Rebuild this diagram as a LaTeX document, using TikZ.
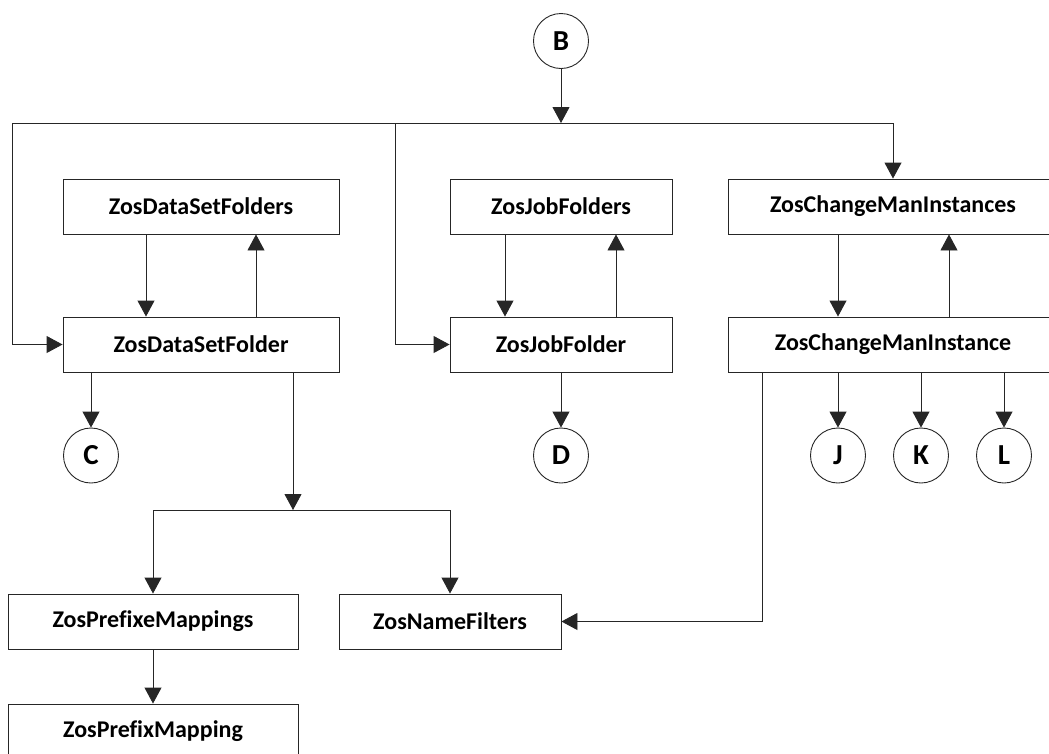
\documentclass[tikz,border=0pt]{standalone}
\usepackage{fontspec}
\setmainfont{Carlito}[Ligatures=NoCommon]
\usetikzlibrary{arrows.meta}

\begin{document}
\begin{tikzpicture}[x=1pt,y=-1pt,line width=0.9pt,draw=black!85,
    >={Triangle[length=16pt,width=17pt]},
    class/.style={draw,rectangle,minimum height=55pt,inner sep=0pt,
      font=\fontsize{24}{28}\selectfont\bfseries},
    conn/.style={draw,circle,minimum size=55pt,inner sep=0pt,
      font=\fontsize{29}{32}\selectfont\bfseries}]
  \useasboundingbox (0,0) rectangle (1049,753);

  \node[conn]                      (B)    at (561,41)    {B};
  \node[class,minimum width=276pt] (dsfs) at (201,206.5) {ZosDataSetFolders};
  \node[class,minimum width=276pt] (dsf)  at (201,344.5) {ZosDataSetFolder};
  \node[class,minimum width=222pt] (jfs)  at (561,206.5) {ZosJobFolders};
  \node[class,minimum width=222pt] (jf)   at (561,344.5) {ZosJobFolder};
  \node[class,minimum width=330pt] (cmis) at (893,206.5) {ZosChangeManInstances};
  \node[class,minimum width=330pt] (cmi)  at (893,344.5) {ZosChangeManInstance};
  \node[conn]                      (C)    at (91,455.5)  {C};
  \node[conn]                      (D)    at (561,455.5) {D};
  \node[conn]                      (J)    at (838,455.5) {J};
  \node[conn]                      (K)    at (921,455.5) {K};
  \node[conn]                      (L)    at (1004,455.5){L};
  \node[class,minimum width=290pt] (pms)  at (153,621.5) {ZosPrefixeMappings};
  \node[class,minimum width=222pt] (nf)   at (450,621.5) {ZosNameFilters};
  \node[class,minimum width=290pt] (pm)   at (153,731.5) {ZosPrefixMapping};

  \coordinate (bus) at (561,123);
  \coordinate (split) at (293,510);

  % B fans out
  \draw[->] (B) -- (bus);
  \draw (12,123) -- (bus -| cmis);
  \draw[->] (bus -| cmis) -- (cmis);
  \draw[->] (12,123) |- (dsf);
  \draw[->] (395,123) |- (jf);

  \path[->] ([xshift=-55pt]dsfs.south) edge ([xshift=-55pt]dsf.north)
            ([xshift=55pt]dsf.north)   edge ([xshift=55pt]dsfs.south)
            ([xshift=-56pt]jfs.south)  edge ([xshift=-56pt]jf.north)
            ([xshift=55pt]jf.north)    edge ([xshift=55pt]jfs.south)
            ([xshift=-55pt]cmis.south) edge ([xshift=-55pt]cmi.north)
            ([xshift=56pt]cmi.north)   edge ([xshift=56pt]cmis.south)
            (C |- dsf.south)           edge (C)
            (jf)                       edge (D)
            (J |- cmi.south)           edge (J)
            (K |- cmi.south)           edge (K)
            (L |- cmi.south)           edge (L)
            (pms)                      edge (pm);

  % DataSetFolder children
  \draw[->] (split |- dsf.south) -- (split);
  \draw (split -| pms) -- (split -| nf);
  \draw[->] (split -| pms) -- (pms);
  \draw[->] (split -| nf) -- (nf);
  \draw[->] (762,372) |- (nf);
\end{tikzpicture}
\end{document}
